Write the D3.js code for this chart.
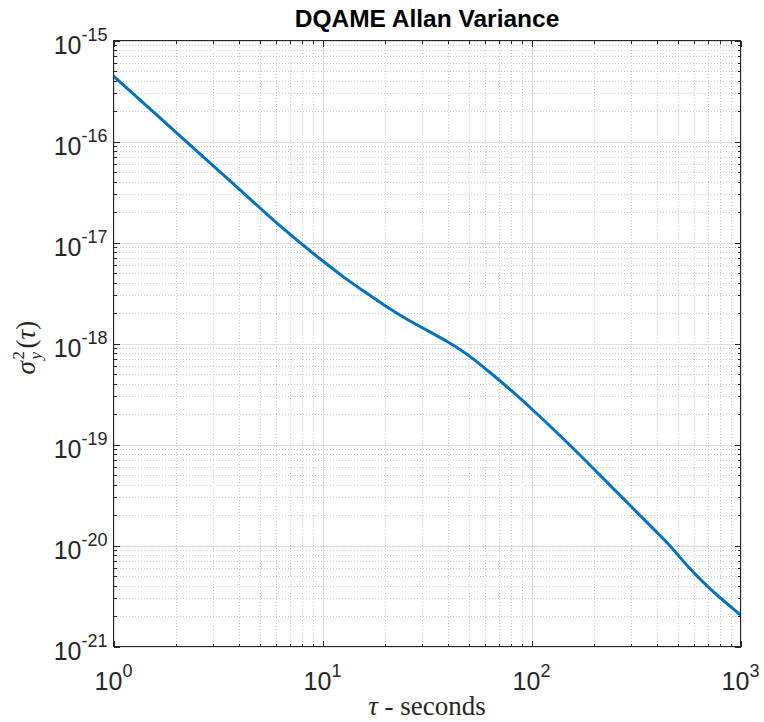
<!DOCTYPE html>
<html lang="en">
<head>
  <meta charset="UTF-8">
  <title>DQAME Allan Variance</title>
  <script src="https://cdn.jsdelivr.net/npm/d3@7"></script>
  <style>
    body { margin: 0; background: #fff; }
    .axis path { display: none; }
    .axis line { stroke: #262626; shape-rendering: crispEdges; }
    .tick-label { font-family: "Liberation Sans", Arial, sans-serif; fill: #262626; }
  </style>
</head>
<body>
  <script>
// averaging time (s) and Allan variance
var tau = [1, 1.585, 2.512, 3.981, 6.31, 10, 12.59, 15.85, 19.95, 25.12, 31.62, 39.81,
           50.12, 63.1, 79.43, 100, 158.5, 251.2, 398.1, 446.7, 562.3, 707.9, 1000];
var avar = [4.44e-16, 1.884e-16, 8.0e-17, 3.40e-17, 1.442e-17, 6.59e-18, 4.57e-18,
            3.27e-18, 2.37e-18, 1.76e-18, 1.35e-18, 1.035e-18, 7.59e-19, 5.19e-19,
            3.47e-19, 2.26e-19, 9.12e-20, 3.51e-20, 1.35e-20, 1.06e-20, 6.17e-21,
            3.80e-21, 2.06e-21];

var xExp = [0, 1, 2, 3];
var yExp = [-21, -20, -19, -18, -17, -16, -15];

var w = 764, h = 722;
var padL = 113.5, padR = 740.5, padT = 40.5, padB = 646.5;

var svg = d3.select("body").append("svg")
  .attr("width", w)
  .attr("height", h);

svg.append("rect").attr("width", w).attr("height", h).attr("fill", "#fff");

var x = d3.scaleLog().domain([1, 1000]).range([padL, padR]);
var y = d3.scaleLog().domain([1e-21, 1e-15]).range([padB, padT]);

var xMajor = xExp.map(e => Math.pow(10, e));
var yMajor = yExp.map(e => Math.pow(10, e));
var xMinor = [], yMinor = [];
xExp.slice(0, -1).forEach(e => { for (var k = 2; k < 10; k++) xMinor.push(k * Math.pow(10, e)); });
yExp.slice(0, -1).forEach(e => { for (var k = 2; k < 10; k++) yMinor.push(k * Math.pow(10, e)); });

// grid
var grid = svg.append("g").attr("shape-rendering", "crispEdges");
grid.selectAll(".xmin").data(xMinor).enter().append("line")
  .attr("x1", d => Math.round(x(d)) + 0.5).attr("x2", d => Math.round(x(d)) + 0.5)
  .attr("y1", padT).attr("y2", padB)
  .attr("stroke", "#c8c8c8").attr("stroke-dasharray", "1,2");
grid.selectAll(".ymin").data(yMinor).enter().append("line")
  .attr("y1", d => Math.round(y(d)) + 0.5).attr("y2", d => Math.round(y(d)) + 0.5)
  .attr("x1", padL).attr("x2", padR)
  .attr("stroke", "#c8c8c8").attr("stroke-dasharray", "1,2");
grid.selectAll(".xmaj").data(xMajor).enter().append("line")
  .attr("x1", d => Math.round(x(d)) + 0.5).attr("x2", d => Math.round(x(d)) + 0.5)
  .attr("y1", padT).attr("y2", padB)
  .attr("stroke", "#dedede");
grid.selectAll(".ymaj").data(yMajor).enter().append("line")
  .attr("y1", d => Math.round(y(d)) + 0.5).attr("y2", d => Math.round(y(d)) + 0.5)
  .attr("x1", padL).attr("x2", padR)
  .attr("stroke", "#dedede");

// the curve
var line = d3.line()
  .x((d, i) => x(tau[i]))
  .y(d => y(d))
  .curve(d3.curveMonotoneX);

svg.append("path")
  .datum(avar)
  .attr("d", line)
  .attr("fill", "none")
  .attr("stroke", "#0072BD")
  .attr("stroke-width", 3)
  .attr("stroke-linejoin", "round");

// ticks pointing inwards on all four sides
function addAxis(axisFn, scale, vals, size, tr) {
  svg.append("g").attr("class", "axis")
    .attr("transform", tr)
    .call(axisFn(scale).tickValues(vals).tickSize(size).tickSizeOuter(0).tickFormat(""));
}
addAxis(d3.axisBottom, x, xMajor, -6, `translate(0,${padB})`);
addAxis(d3.axisBottom, x, xMinor, -3, `translate(0,${padB})`);
addAxis(d3.axisTop, x, xMajor, -6, `translate(0,${padT})`);
addAxis(d3.axisTop, x, xMinor, -3, `translate(0,${padT})`);
addAxis(d3.axisLeft, y, yMajor, -6, `translate(${padL},0)`);
addAxis(d3.axisLeft, y, yMinor, -3, `translate(${padL},0)`);
addAxis(d3.axisRight, y, yMajor, -6, `translate(${padR},0)`);
addAxis(d3.axisRight, y, yMinor, -3, `translate(${padR},0)`);

// box
svg.append("rect")
  .attr("x", padL).attr("y", padT)
  .attr("width", padR - padL).attr("height", padB - padT)
  .attr("fill", "none").attr("stroke", "#262626").attr("shape-rendering", "crispEdges");

// tick labels as 10^n
svg.selectAll(".xlab").data(xExp).enter().append("text")
  .attr("class", "tick-label")
  .attr("x", d => x(Math.pow(10, d)))
  .attr("y", padB + 43)
  .attr("text-anchor", "middle")
  .each(function(d) {
    var t = d3.select(this);
    t.append("tspan").attr("font-size", 25).text("10");
    t.append("tspan").attr("font-size", 18).attr("dy", -13).text(d);
  });

svg.selectAll(".ylab").data(yExp).enter().append("text")
  .attr("class", "tick-label")
  .attr("x", padL - 6)
  .attr("y", d => y(Math.pow(10, d)) + 13)
  .attr("text-anchor", "end")
  .each(function(d) {
    var t = d3.select(this);
    t.append("tspan").attr("font-size", 25).text("10");
    t.append("tspan").attr("font-size", 18).attr("dy", -13).text(d);
  });

// title
svg.append("text")
  .attr("x", (padL + padR) / 2)
  .attr("y", 27)
  .attr("text-anchor", "middle")
  .attr("font-family", "Liberation Sans, Arial, sans-serif")
  .attr("font-weight", "bold")
  .attr("font-size", 24.5)
  .attr("fill", "#000")
  .text("DQAME Allan Variance");

// x label
var xl = svg.append("text")
  .attr("x", (padL + padR) / 2)
  .attr("y", 715)
  .attr("text-anchor", "middle")
  .attr("font-family", "Liberation Serif, Times New Roman, serif")
  .attr("font-size", 27)
  .attr("fill", "#262626");
xl.append("tspan").attr("font-style", "italic").text("τ");
xl.append("tspan").text(" - seconds");

// y label  sigma_y^2(tau), rotated
var yl = svg.append("g")
  .attr("transform", "translate(35," + ((padT + padB) / 2) + ") rotate(-90)")
  .attr("font-family", "Liberation Serif, Times New Roman, serif")
  .attr("fill", "#262626");
yl.append("text").attr("x", -31).attr("y", 0).attr("font-size", 27)
  .attr("font-style", "italic").text("σ");
yl.append("text").attr("x", -16).attr("y", -11).attr("font-size", 17).text("2");
yl.append("text").attr("x", -16).attr("y", 6).attr("font-size", 17)
  .attr("font-style", "italic").text("y");
var ylp = yl.append("text").attr("x", -5).attr("y", 0).attr("font-size", 27);
ylp.append("tspan").text("(");
ylp.append("tspan").attr("font-style", "italic").text("τ");
ylp.append("tspan").text(")");
  </script>
</body>
</html>
